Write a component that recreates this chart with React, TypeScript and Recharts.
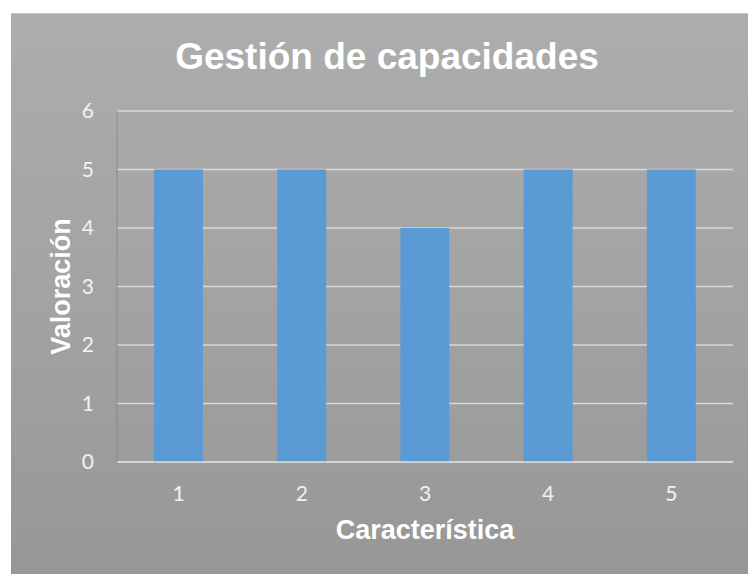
import { BarChart, Bar, XAxis, YAxis, CartesianGrid } from "recharts";

const caracteristicas = ["1", "2", "3", "4", "5"];
const valoraciones = [5, 5, 4, 5, 5];
const yTicks = [0, 1, 2, 3, 4, 5, 6];

const data = caracteristicas.map((c, i) => ({ name: c, value: valoraciones[i] }));

const W = 737;
const H = 561;

const tickFont = { fill: "#f2f2f2", fontSize: 21, fontFamily: "Lato, 'Open Sans', sans-serif" };
const titleFont = "'Liberation Sans', Arial, sans-serif";

export default function App() {
  return (
    <div
      style={{
        position: "fixed",
        left: 11,
        top: 13,
        width: W,
        height: H,
        background: "linear-gradient(to bottom, #adadad 0%, #a3a3a3 50%, #979797 100%)",
        borderTop: "1px solid #c4c4c4",
        boxSizing: "border-box",
      }}
    >
      <div
        style={{
          position: "absolute",
          left: 0,
          top: 22,
          width: 752,
          textAlign: "center",
          fontFamily: titleFont,
          fontWeight: "bold",
          fontSize: 37,
          color: "#ffffff",
          whiteSpace: "nowrap",
        }}
      >
        Gestión de capacidades
      </div>
      <BarChart
        width={W}
        height={H}
        data={data}
        margin={{ top: 97, right: 15, bottom: 0, left: 0 }}
        barCategoryGap="30%"
      >
        <CartesianGrid vertical={false} stroke="#d9d9d9" strokeWidth={1.5} />
        <XAxis
          dataKey="name"
          height={113}
          axisLine={{ stroke: "#d9d9d9", strokeWidth: 1.5 }}
          tickLine={false}
          tickSize={22}
          tickMargin={2}
          tick={tickFont}
          label={{
            value: "Característica",
            position: "insideBottom",
            offset: 36,
            fill: "#ffffff",
            fontSize: 27,
            fontWeight: "bold",
            fontFamily: titleFont,
          }}
        />
        <YAxis
          width={106}
          domain={[0, 6]}
          ticks={yTicks}
          interval={0}
          axisLine={{ stroke: "#8a8a8a" }}
          tickLine={false}
          tickSize={21}
          tickMargin={2}
          tick={tickFont}
          label={{
            value: "Valoración",
            angle: -90,
            position: "insideLeft",
            offset: 49,
            fill: "#ffffff",
            fontSize: 27,
            fontWeight: "bold",
            fontFamily: titleFont,
            style: { textAnchor: "middle" },
          }}
        />
        <Bar dataKey="value" fill="#5b9bd5" isAnimationActive={false} />
      </BarChart>
    </div>
  );
}
